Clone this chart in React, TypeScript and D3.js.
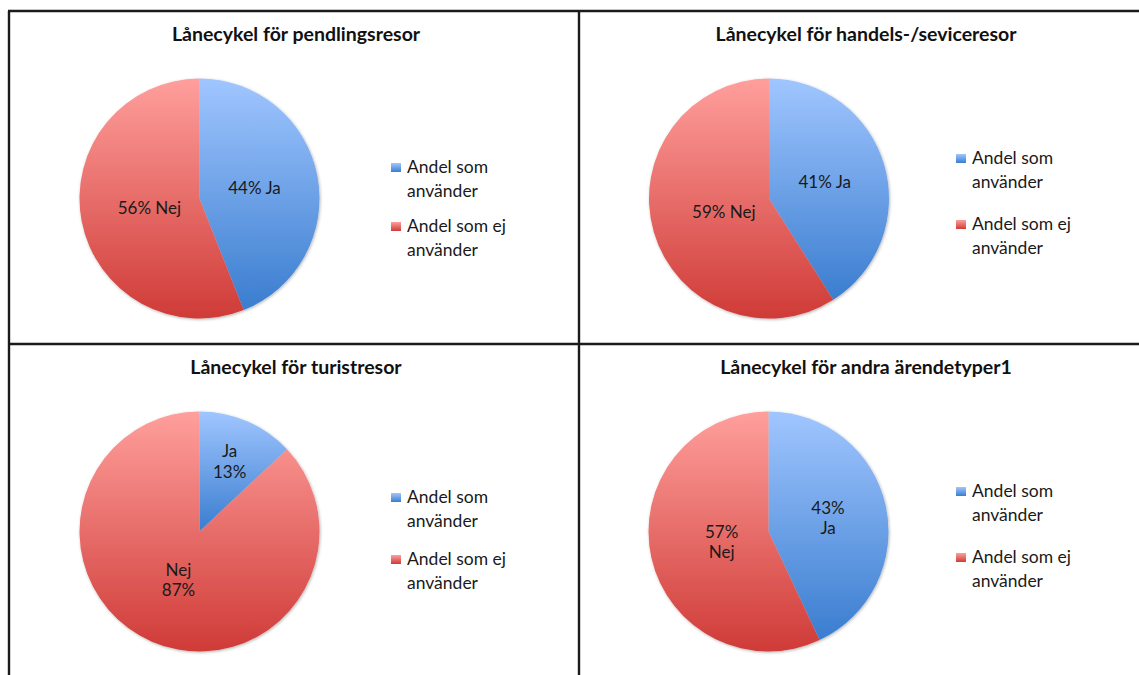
import React from "react";
import * as d3 from "d3";

// Survey shares for shared bikes (lånecykel), per trip type
const titles = [
  "Lånecykel för pendlingsresor",
  "Lånecykel för handels-/seviceresor",
  "Lånecykel för turistresor",
  "Lånecykel för andra ärendetyper1",
];
const categories = ["Ja", "Nej"];
const legendLabels = [
  ["Andel som", "använder"],
  ["Andel som ej", "använder"],
];
const jaShare = [44, 41, 13, 43];
const nejShare = [56, 59, 87, 57];
// how each slice label is worded: "pct cat" on one line, or stacked
const labelStyles = ["inline", "inline", "catFirst", "pctFirst"];

// Panel layout
const W = 1139;
const H = 675;
const panels = [
  { cx: 199.5, cy: 198.5, titleY: 41, legendY: [173, 232], legendX: 391 },
  { cx: 769, cy: 198.5, titleY: 41, legendY: [164, 230], legendX: 956 },
  { cx: 199.5, cy: 531.5, titleY: 374, legendY: [503, 565], legendX: 391 },
  { cx: 768.5, cy: 531.5, titleY: 374, legendY: [497, 563], legendX: 956 },
];
const titleCx = [296, 866, 296, 866];
const labelRadius = [
  [56, 51],
  [58, 47],
  [76, 53],
  [61, 48],
];
const R = 120;
const FONT = "Lato, 'Open Sans', sans-serif";

const pie = d3
  .pie<number>()
  .sort(null)
  .value((d) => d)
  .startAngle(0)
  .endAngle(2 * Math.PI);
const arc = d3.arc<d3.PieArcDatum<number>>().innerRadius(0).outerRadius(R);

function SliceLabel({ text, x, y }: { text: string[]; x: number; y: number }) {
  const lh = 20.5;
  const y0 = y - ((text.length - 1) * lh) / 2;
  return (
    <text x={x} textAnchor="middle" fontFamily={FONT} fontSize={17} fill="#1a1a1a">
      {text.map((t, i) => (
        <tspan key={i} x={x} y={y0 + i * lh} dy="0.35em">
          {t}
        </tspan>
      ))}
    </text>
  );
}

export default function App() {
  const gradIds = ["gBlue", "gRed"];
  return (
    <svg
      width={W}
      height={H}
      style={{ position: "fixed", left: 0, top: 0, background: "#fff" }}
    >
      <defs>
        <linearGradient id="gBlue" x1="0" y1="0" x2="0" y2="1">
          <stop offset="0" stopColor="#a0c6ff" />
          <stop offset="1" stopColor="#3a7dcf" />
        </linearGradient>
        <linearGradient id="gRed" x1="0" y1="0" x2="0" y2="1">
          <stop offset="0" stopColor="#ff9f9c" />
          <stop offset="1" stopColor="#cf3b37" />
        </linearGradient>
        <filter id="pieShadow" x="-10%" y="-10%" width="120%" height="120%">
          <feDropShadow dx="0.8" dy="1" stdDeviation="1.4" floodColor="#000" floodOpacity="0.3" />
        </filter>
      </defs>

      {panels.map((p, i) => {
        const values = [jaShare[i], nejShare[i]];
        const arcs = pie(values);
        return (
          <g key={i}>
            <text
              x={titleCx[i]}
              y={p.titleY}
              textAnchor="middle"
              fontFamily={FONT}
              fontWeight={700}
              fontSize={19.5}
              fill="#111"
            >
              {titles[i]}
            </text>
            <g transform={`translate(${p.cx},${p.cy})`} filter="url(#pieShadow)">
              {arcs.map((a, j) => (
                <path key={j} d={arc(a) ?? ""} fill={`url(#${gradIds[j]})`} />
              ))}
            </g>
            {arcs.map((a, j) => {
              const r = labelRadius[i][j];
              const lab = d3.arc<d3.PieArcDatum<number>>().innerRadius(r).outerRadius(r);
              const [lx, ly] = lab.centroid(a);
              const pct = `${values[j]}%`;
              const cat = categories[j];
              const style = labelStyles[i];
              const text =
                style === "inline" ? [`${pct} ${cat}`] : style === "catFirst" ? [cat, pct] : [pct, cat];
              return <SliceLabel key={j} text={text} x={p.cx + lx} y={p.cy + ly} />;
            })}
            {legendLabels.map((lines, j) => (
              <g key={j}>
                <rect
                  x={p.legendX}
                  y={p.legendY[j] - 10}
                  width={10}
                  height={9}
                  fill={`url(#${gradIds[j]})`}
                />
                <text fontFamily={FONT} fontSize={17.5} fill="#1a1a1a">
                  {lines.map((t, k) => (
                    <tspan key={k} x={p.legendX + 16} y={p.legendY[j] + k * 23.5}>
                      {t}
                    </tspan>
                  ))}
                </text>
              </g>
            ))}
          </g>
        );
      })}

      {/* panel frame */}
      <g stroke="#1b1b1b" strokeWidth={2.4} fill="none">
        <line x1={8} y1={11} x2={W} y2={11} />
        <line x1={9} y1={11} x2={9} y2={H} />
        <line x1={579} y1={11} x2={579} y2={H} />
        <line x1={8} y1={344} x2={W} y2={344} />
      </g>
    </svg>
  );
}
